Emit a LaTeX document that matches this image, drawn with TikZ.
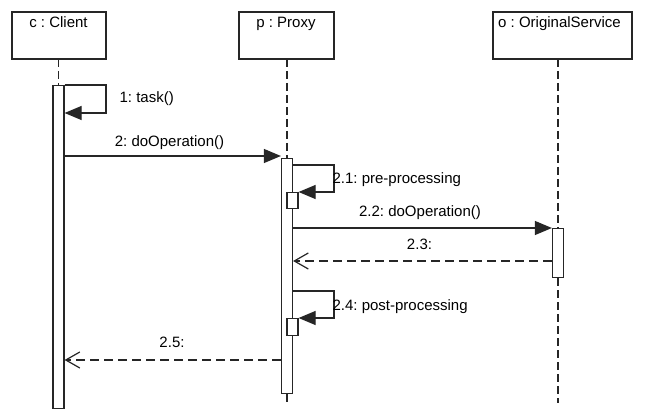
\documentclass[tikz,border=0pt]{standalone}
\usepackage{fontspec}
\setmainfont{Liberation Sans}
\usetikzlibrary{arrows.meta}
\frenchspacing
\tikzset{
  every node/.style={font=\fontsize{15pt}{17pt}\selectfont},
  objbox/.style={draw, minimum height=47pt, inner sep=0pt},
  actbar/.style={draw, fill=white, minimum width=11pt, inner sep=0pt, anchor=north},
  lifeline/.style={dash pattern=on 8pt off 4pt},
  call/.style={-{Triangle[length=17pt,width=14pt]}},
  reply/.style={dash pattern=on 9pt off 5pt, -{Straight Barb[length=14pt,width=16pt]}},
  msg/.style={inner sep=0pt, anchor=base},
  selfmsg/.style={inner sep=0pt, anchor=base west}
}

\begin{document}
\begin{tikzpicture}[x=1pt, y=-1pt, line width=1.2pt, draw=black!85]
		\useasboundingbox (0,0) rectangle (648,419);
		% objects
		\node[objbox, minimum width=94pt] (client) at (59,35.5) {};
		\node[msg] at (58.5,28) {c : Client};
		\node[objbox, minimum width=95pt] (proxy) at (286.5,35.5) {};
		\node[msg] at (286,28) {p : Proxy};
		\node[objbox, minimum width=139pt] (orig) at (562.5,35.5) {};
		\node[msg] at (559.5,28) {o : OriginalService};
		\coordinate (ctop) at (58.5,59);
		\coordinate (ptop) at (287,59);
		\coordinate (otop) at (558,59);
		\coordinate (pend) at (287,403);
		\coordinate (oend) at (558,403);
		% activation bars
		\node[actbar, minimum height=323pt] (cbar) at (58.5,85) {};
		\node[actbar, minimum height=235pt] (pbar) at (287,158) {};
		\node[actbar, minimum height=49pt] (obar) at (558,228) {};
		\draw[lifeline] (ctop) -- (cbar.north);
		\draw[lifeline] (ptop) -- (pbar.north);
		\draw[lifeline] (pbar.south) -- (pend);
		\draw[lifeline] (otop) -- (obar.north);
		\draw[lifeline] (obar.south) -- (oend);
		\node[actbar, minimum height=323pt] at (58.5,85) {};
		\node[actbar, minimum height=235pt] at (287,158) {};
		\node[actbar, minimum height=49pt] at (558,228) {};
		\node[actbar, minimum height=16pt] (pre) at (292.5,192) {};
		\node[actbar, minimum height=17pt] (post) at (292.5,318) {};
		% 1: task()
		\coordinate (c1) at (106,113);
		\draw[call] (cbar.north east) -| (c1) -- (c1 -| cbar.east);
		\node[selfmsg] at (119,103) {1: task()};
		% 2: doOperation()
		\coordinate (c2) at (0,156);
		\draw[call] (c2 -| cbar.east) -- (c2 -| pbar.west);
		\node[msg] at (169.5,147) {2: doOperation()};
		% 2.1: pre-processing
		\coordinate (c21) at (334,165);
		\coordinate (c21b) at (334,192);
		\draw[call] (c21 -| pbar.east) -- (c21) -- (c21b) -- (pre.north east);
		\node[selfmsg] at (332,184) {2.1: pre-processing};
		% 2.2: doOperation()
		\coordinate (c22) at (0,228);
		\draw[call] (c22 -| pbar.east) -- (obar.north west);
		\node[msg] at (420,217) {2.2: doOperation()};
		% 2.3:
		\coordinate (c23) at (0,261);
		\draw[reply] (c23 -| obar.west) -- (c23 -| pbar.east);
		\node[msg] at (419.5,250) {2.3:};
		% 2.4: post-processing
		\coordinate (c24) at (334,291);
		\coordinate (c24b) at (334,318);
		\draw[call] (c24 -| pbar.east) -- (c24) -- (c24b) -- (post.north east);
		\node[selfmsg] at (332,311) {2.4: post-processing};
		% 2.5:
		\coordinate (c25) at (0,360);
		\draw[reply] (c25 -| pbar.west) -- (c25 -| cbar.east);
		\node[msg] at (172,348) {2.5:};
\end{tikzpicture}
\end{document}
